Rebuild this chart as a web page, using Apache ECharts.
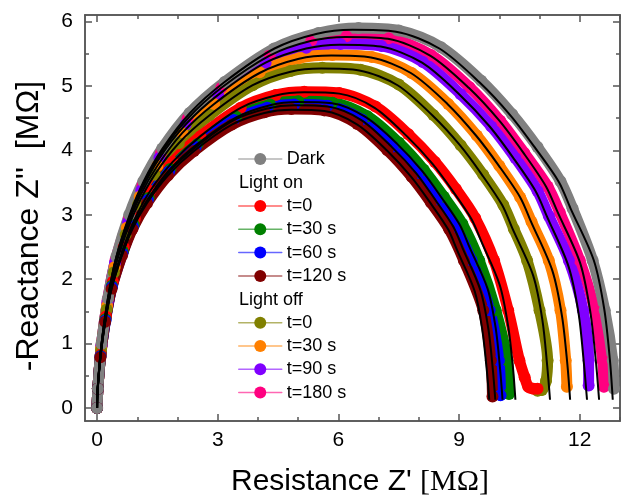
<!DOCTYPE html>
<html>
<head>
<meta charset="utf-8">
<script src="https://cdn.jsdelivr.net/npm/echarts@6/dist/echarts.min.js"></script>
<style>
  html, body { margin: 0; padding: 0; background: #fff; }
  #chart { width: 629px; height: 497px; }
</style>
</head>
<body>
<div id="chart"></div>
<script>
// tick values
var xMajor = [0, 3, 6, 9, 12];
var xMinor = [1, 2, 4, 5, 7, 8, 10, 11, 13];
var yMajor = [0, 1, 2, 3, 4, 5, 6];
var yMinor = [0.5, 1.5, 2.5, 3.5, 4.5, 5.5];

// measured points [Z', -Z''] in MOhm
var darkData = [[0,0],[0.02,0.3],[0.11,1.0],[0.27,1.7],[0.48,2.35],[0.8,3.0],[1.15,3.52],[1.62,4.03],[2.3,4.58],[3.17,5.06],[4.4,5.58],[5.5,5.82],[6.5,5.9],[7.5,5.86],[8.55,5.6],[9.55,5.08],[10.32,4.56],[10.95,4.05],[11.52,3.52],[11.82,3.1],[12.32,2.29],[12.62,1.52],[12.82,0.74],[12.85,0.3]];
var on0Data = [[0,0],[0.02,0.3],[0.09,0.83],[0.22,1.42],[0.39,1.96],[0.66,2.5],[0.94,2.94],[1.32,3.37],[1.88,3.82],[2.57,4.22],[3.57,4.66],[4.44,4.86],[5.15,4.91],[6.02,4.89],[6.92,4.68],[7.74,4.25],[8.4,3.82],[8.92,3.4],[9.4,2.95],[9.87,2.29],[10.22,1.52],[10.5,0.74],[10.63,0.48],[10.72,0.33],[10.85,0.3],[10.95,0.3]];
var on30Data = [[0,0],[0.02,0.3],[0.087,0.81],[0.21,1.38],[0.37,1.9],[0.64,2.43],[0.91,2.85],[1.28,3.26],[1.82,3.71],[2.5,4.1],[3.46,4.52],[4.3,4.71],[5.0,4.76],[5.85,4.74],[6.72,4.53],[7.5,4.12],[8.12,3.7],[8.62,3.28],[9.08,2.86],[9.5,2.29],[9.91,1.52],[10.2,0.74],[10.24,0.22]];
var on60Data = [[0,0],[0.02,0.3],[0.085,0.8],[0.21,1.36],[0.37,1.88],[0.63,2.4],[0.89,2.82],[1.26,3.23],[1.79,3.67],[2.45,4.05],[3.4,4.47],[4.23,4.66],[4.9,4.71],[5.73,4.69],[6.58,4.48],[7.35,4.06],[7.97,3.65],[8.45,3.24],[8.9,2.82],[9.31,2.29],[9.76,1.52],[9.99,0.74],[10.03,0.2]];
var on120Data = [[0,0],[0.02,0.3],[0.084,0.79],[0.2,1.34],[0.36,1.85],[0.62,2.37],[0.88,2.78],[1.24,3.18],[1.76,3.61],[2.41,3.99],[3.35,4.4],[4.16,4.59],[4.83,4.64],[5.65,4.62],[6.47,4.41],[7.22,4.0],[7.82,3.59],[8.3,3.19],[8.75,2.78],[9.12,2.29],[9.6,1.52],[9.79,0.74],[9.83,0.18]];
var off0Data = [[0,0],[0.02,0.3],[0.1,0.9],[0.24,1.53],[0.42,2.11],[0.71,2.69],[1.02,3.16],[1.43,3.62],[2.03,4.11],[2.79,4.54],[3.87,5.01],[4.81,5.23],[5.6,5.28],[6.55,5.25],[7.5,5.02],[8.36,4.55],[9.04,4.08],[9.6,3.62],[10.1,3.15],[10.36,2.78],[10.69,2.29],[11.0,1.52],[11.2,0.74],[11.16,0.42],[11.06,0.28],[10.95,0.27]];
var off30Data = [[0,0],[0.02,0.3],[0.1,0.93],[0.25,1.59],[0.44,2.19],[0.74,2.8],[1.06,3.28],[1.5,3.76],[2.12,4.27],[2.91,4.72],[4.04,5.21],[5.02,5.43],[5.85,5.48],[6.83,5.45],[7.82,5.2],[8.73,4.72],[9.44,4.23],[10.0,3.76],[10.52,3.27],[10.8,2.89],[11.23,2.29],[11.52,1.52],[11.65,0.74],[11.68,0.33]];
var off90Data = [[0,0],[0.02,0.3],[0.105,0.96],[0.26,1.64],[0.45,2.26],[0.77,2.88],[1.1,3.38],[1.55,3.88],[2.2,4.4],[3.01,4.86],[4.19,5.36],[5.2,5.59],[6.05,5.65],[7.07,5.62],[8.1,5.37],[9.04,4.87],[9.8,4.37],[10.4,3.88],[10.95,3.37],[11.23,2.98],[11.73,2.29],[12.08,1.52],[12.22,0.74],[12.22,0.35]];
var off180Data = [[0,0],[0.02,0.3],[0.11,0.98],[0.26,1.67],[0.46,2.3],[0.79,2.94],[1.13,3.46],[1.59,3.96],[2.25,4.49],[3.09,4.97],[4.29,5.47],[5.33,5.71],[6.2,5.77],[7.25,5.74],[8.3,5.48],[9.26,4.98],[10.02,4.46],[10.62,3.96],[11.2,3.44],[11.5,3.04],[12.0,2.29],[12.37,1.52],[12.57,0.74],[12.6,0.33]];

// fitted curves (black)
var darkFit = [[0,0],[0.013,0.29],[0.11,1.0],[0.27,1.7],[0.48,2.35],[0.81,3.0],[1.16,3.52],[1.63,4.03],[2.31,4.58],[3.17,5.06],[4.41,5.58],[5.47,5.81],[6.35,5.87],[7.43,5.84],[8.51,5.58],[9.5,5.06],[10.28,4.54],[10.9,4.03],[11.48,3.51],[11.77,3.1],[12.35,2.29],[12.61,1.53],[12.75,0.74],[12.82,0.13]];
var on0Fit = [[0,0],[0.01,0.25],[0.09,0.83],[0.22,1.42],[0.39,1.96],[0.66,2.5],[0.94,2.94],[1.32,3.37],[1.88,3.82],[2.57,4.22],[3.57,4.66],[4.44,4.85],[5.15,4.9],[6.02,4.88],[6.9,4.66],[7.7,4.22],[8.34,3.79],[8.84,3.37],[9.31,2.93],[9.55,2.59],[10.01,1.91],[10.22,1.27],[10.34,0.62],[10.4,0.13]];
var on30Fit = [[0,0],[0.01,0.24],[0.087,0.81],[0.21,1.38],[0.37,1.9],[0.64,2.43],[0.91,2.85],[1.28,3.26],[1.82,3.71],[2.5,4.1],[3.46,4.51],[4.3,4.7],[4.99,4.75],[5.84,4.73],[6.69,4.51],[7.46,4.1],[8.08,3.68],[8.57,3.26],[9.02,2.84],[9.25,2.51],[9.71,1.85],[9.91,1.24],[10.02,0.6],[10.08,0.13]];
var on60Fit = [[0,0],[0.01,0.24],[0.085,0.8],[0.21,1.36],[0.37,1.88],[0.63,2.4],[0.89,2.82],[1.26,3.23],[1.79,3.67],[2.45,4.05],[3.4,4.47],[4.23,4.65],[4.9,4.7],[5.73,4.68],[6.57,4.47],[7.33,4.05],[7.94,3.64],[8.41,3.23],[8.86,2.81],[9.09,2.48],[9.53,1.83],[9.73,1.22],[9.84,0.59],[9.9,0.13]];
var on120Fit = [[0,0],[0.01,0.23],[0.084,0.79],[0.2,1.34],[0.36,1.85],[0.62,2.37],[0.88,2.78],[1.24,3.18],[1.76,3.61],[2.41,3.99],[3.35,4.4],[4.16,4.58],[4.83,4.63],[5.65,4.61],[6.47,4.4],[7.22,3.99],[7.82,3.58],[8.29,3.18],[8.73,2.77],[8.95,2.45],[9.39,1.81],[9.58,1.2],[9.69,0.58],[9.75,0.13]];
var off0Fit = [[0,0],[0.011,0.26],[0.1,0.9],[0.24,1.53],[0.42,2.11],[0.71,2.69],[1.02,3.16],[1.43,3.62],[2.03,4.11],[2.79,4.54],[3.87,5.01],[4.81,5.22],[5.57,5.27],[6.52,5.24],[7.47,5.01],[8.34,4.54],[9.02,4.08],[9.57,3.62],[10.07,3.15],[10.33,2.78],[10.84,2.06],[11.07,1.37],[11.19,0.66],[11.26,0.13]];
var off30Fit = [[0,0],[0.012,0.27],[0.1,0.93],[0.25,1.59],[0.44,2.19],[0.74,2.8],[1.06,3.28],[1.5,3.76],[2.12,4.27],[2.91,4.72],[4.04,5.2],[5.02,5.42],[5.82,5.47],[6.81,5.44],[7.8,5.2],[8.71,4.72],[9.42,4.23],[9.99,3.76],[10.52,3.27],[10.79,2.89],[11.32,2.13],[11.56,1.42],[11.69,0.69],[11.76,0.13]];
var off90Fit = [[0,0],[0.012,0.28],[0.105,0.96],[0.26,1.64],[0.45,2.26],[0.77,2.88],[1.1,3.38],[1.55,3.88],[2.2,4.4],[3.01,4.86],[4.19,5.36],[5.2,5.58],[6.03,5.64],[7.05,5.61],[8.08,5.36],[9.02,4.86],[9.76,4.37],[10.35,3.88],[10.9,3.37],[11.18,2.98],[11.72,2.2],[11.97,1.47],[12.1,0.71],[12.18,0.13]];
var off180Fit = [[0,0],[0.013,0.29],[0.11,0.98],[0.26,1.67],[0.46,2.3],[0.79,2.94],[1.13,3.46],[1.59,3.96],[2.25,4.49],[3.09,4.97],[4.29,5.47],[5.33,5.7],[6.18,5.76],[7.23,5.73],[8.28,5.47],[9.24,4.97],[10.0,4.46],[10.6,3.96],[11.16,3.44],[11.45,3.04],[12.01,2.25],[12.26,1.5],[12.4,0.73],[12.48,0.13]];

// name, colour, points, fit  (drawing order: bottom first)
var groups = [
  ["off t=180 s", "#FF0080", off180Data, off180Fit],
  ["off t=90 s", "#8000FF", off90Data, off90Fit],
  ["off t=30 s", "#FF8000", off30Data, off30Fit],
  ["off t=0", "#808000", off0Data, off0Fit],
  ["on t=0", "#FF0000", on0Data, on0Fit],
  ["on t=30 s", "#008000", on30Data, on30Fit],
  ["on t=60 s", "#0000FF", on60Data, on60Fit],
  ["on t=120 s", "#800000", on120Data, on120Fit],
  ["Dark", "#808080", darkData, darkFit]
];

var font = "Liberation Sans, Arial, sans-serif";
var axisCol = "#555";

function xAx(pos, ticks, len, labels) {
  return {
    type: "value", position: pos, min: -0.3, max: 13,
    axisLine: { show: true, onZero: false, lineStyle: { color: axisCol, width: 1.5 } },
    axisTick: { show: true, inside: true, length: len, customValues: ticks, lineStyle: { color: axisCol, width: 1.5 } },
    axisLabel: { show: labels, customValues: ticks, fontSize: 21, color: "#000", fontFamily: font, margin: 9 },
    splitLine: { show: false }
  };
}
function yAx(pos, ticks, len, labels) {
  return {
    type: "value", position: pos, min: -0.2, max: 6.1,
    axisLine: { show: true, onZero: false, lineStyle: { color: axisCol, width: 1.5 } },
    axisTick: { show: true, inside: true, length: len, customValues: ticks, lineStyle: { color: axisCol, width: 1.5 } },
    axisLabel: { show: labels, customValues: ticks, fontSize: 21, color: "#000", fontFamily: font, margin: 12 },
    splitLine: { show: false }
  };
}

var series = [];
groups.forEach(function (g) {
  series.push({
    name: g[0], type: "line", data: g[2], xAxisIndex: 0, yAxisIndex: 0,
    smooth: 0.3, symbol: "circle", symbolSize: 12,
    itemStyle: { color: g[1] },
    lineStyle: { color: g[1], width: 11, cap: "round", join: "round" },
    z: 2
  });
});
groups.forEach(function (g) {
  series.push({
    name: "fit " + g[0], type: "line", data: g[3], xAxisIndex: 0, yAxisIndex: 0,
    smooth: 0.3, symbol: "none",
    lineStyle: { color: "#000", width: 2 },
    z: 4, silent: true
  });
});

function legendBox(top, names) {
  return {
    orient: "vertical", left: 238, top: top, padding: 0,
    itemWidth: 43, itemHeight: 15, itemGap: 3.3,
    data: names, selectedMode: false,
    lineStyle: { width: 1.5, opacity: 0.6 },
    textStyle: { fontSize: 18, color: "#000", fontFamily: font, lineHeight: 20 },
    formatter: function (n) { return n.replace(/^(on|off) /, ""); }
  };
}

var option = {
  animation: false,
  backgroundColor: "#fff",
  grid: { left: 85, right: 9, top: 15, bottom: 76 },
  xAxis: [
    xAx("bottom", xMajor, 7, true),
    xAx("bottom", xMinor, 4, false),
    xAx("top", xMajor, 7, false),
    xAx("top", xMinor, 4, false)
  ],
  yAxis: [
    yAx("left", yMajor, 7, true),
    yAx("left", yMinor, 4, false),
    yAx("right", yMajor, 7, false),
    yAx("right", yMinor, 4, false)
  ],
  legend: [
    legendBox(149, ["Dark"]),
    legendBox(196, ["on t=0", "on t=30 s", "on t=60 s", "on t=120 s"]),
    legendBox(312.7, ["off t=0", "off t=30 s", "off t=90 s", "off t=180 s"])
  ],
  graphic: [
    { type: "text", x: 239, y: 182.7, style: { text: "Light on", font: "18px " + font, fill: "#000", align: "left", verticalAlign: "middle" } },
    { type: "text", x: 239, y: 300, style: { text: "Light off", font: "18px " + font, fill: "#000", align: "left", verticalAlign: "middle" } },
    { type: "text", x: 360, y: 482, style: {
        text: "{a|Resistance Z' }{b|[M\u03A9]}", align: "center", verticalAlign: "middle",
        rich: { a: { fontSize: 30, fontFamily: font, fill: "#000" }, b: { fontSize: 30, fontFamily: "Liberation Serif, Times New Roman, serif", fill: "#000" } } } },
    { type: "text", x: 29, y: 226, rotation: Math.PI / 2, style: {
        text: "-Reactance Z''  [M\u03A9]", font: "32px " + font, fill: "#000", align: "center", verticalAlign: "middle" } }
  ],
  series: series
};

var chart = echarts.init(document.getElementById("chart"));
chart.setOption(option);
</script>
</body>
</html>
